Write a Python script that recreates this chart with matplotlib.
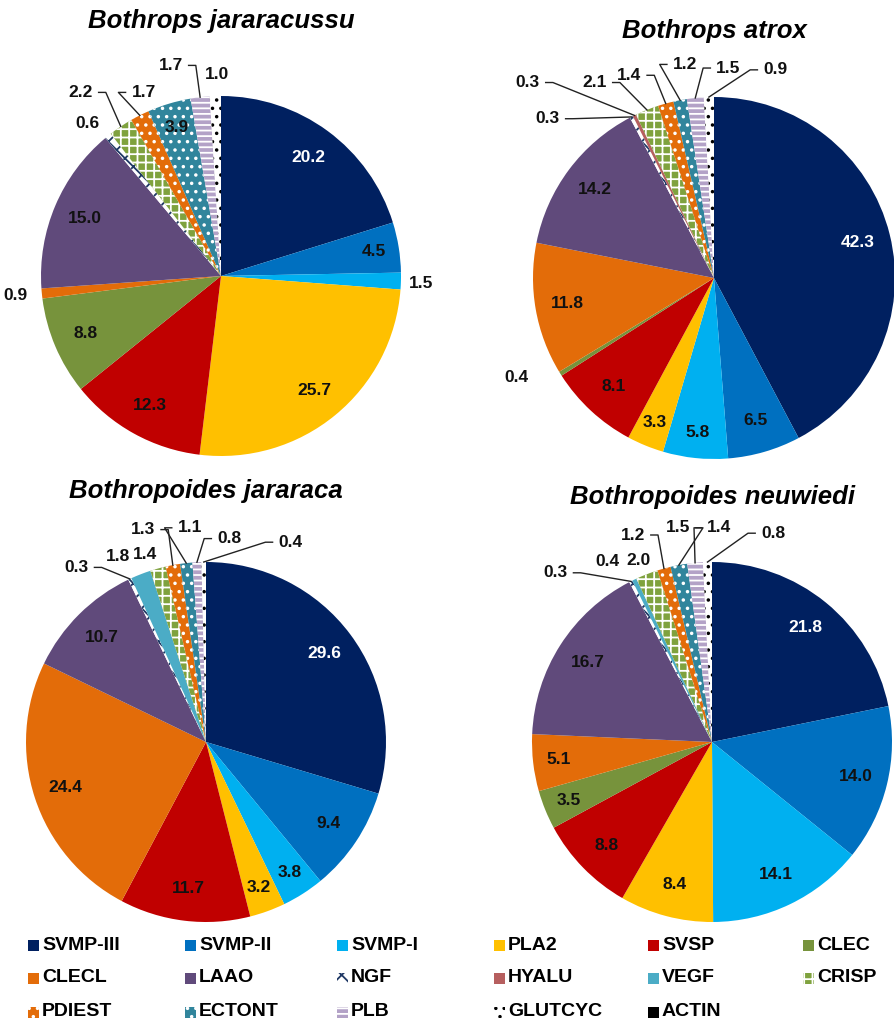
import matplotlib
matplotlib.use('Agg')
import matplotlib.pyplot as plt
from matplotlib.patches import Rectangle
from matplotlib import font_manager
import numpy as np

categories = ['SVMP-III', 'SVMP-II', 'SVMP-I', 'PLA2', 'SVSP', 'CLEC',
              'CLECL', 'LAAO', 'NGF', 'HYALU', 'VEGF', 'CRISP',
              'PDIEST', 'ECTONT', 'PLB', 'GLUTCYC', 'ACTIN']

# % of venom proteome, same order as categories
jararacussu = [20.2, 4.5, 1.5, 25.7, 12.3, 8.8, 0.9, 15.0, 0.6, 0, 0, 2.2, 1.7, 3.9, 1.7, 1.0, 0]
atrox = [42.3, 6.5, 5.8, 3.3, 8.1, 0.4, 11.8, 14.2, 0.3, 0.3, 0, 2.1, 1.4, 1.2, 1.5, 0.9, 0]
jararaca = [29.6, 9.4, 3.8, 3.2, 11.7, 0, 24.4, 10.7, 0.3, 0, 1.8, 1.4, 1.3, 1.1, 0.8, 0.4, 0]
neuwiedi = [21.8, 14.0, 14.1, 8.4, 8.8, 3.5, 5.1, 16.7, 0.3, 0, 0.4, 2.0, 1.2, 1.5, 1.4, 0.8, 0]

species = ['Bothrops jararacussu', 'Bothrops atrox',
           'Bothropoides jararaca', 'Bothropoides neuwiedi']

colors = ['#002060', '#0070C0', '#00B0F0', '#FFC000', '#C00000', '#77933C',
          '#E36C09', '#604A7B', '#FFFFFF', '#B65F5F', '#4BACC6', '#7FA23E',
          '#E36C09', '#31859C', '#B3A2C7', '#FFFFFF', '#000000']
hatches = [None] * 8 + ['xx', None, None, '++', '..', '..', '---', '..', None]
hatch_cols = [None] * 8 + ['#1F3864', None, None, 'white', 'white', 'white', 'white', 'black', None]

# layout (pixels): pie centre x, centre y, radius, title y
W, H = 895, 1035
pies = [(221, 276, 180, 21), (714, 278, 181, 31), (206, 742, 180, 491), (712, 742, 180, 497)]

# labels placed outside the pie: category index -> (x, y in radius units, leader line)
outside = [
    {2: (1.11, -0.04, False), 6: (-1.14, -0.11, False), 8: (-0.74, 0.85, False),
     11: (-0.78, 1.02, True), 12: (-0.43, 1.02, True), 14: (-0.28, 1.17, True),
     15: (-0.02, 1.12, False)},
    {5: (-1.09, -0.55, False), 8: (-0.92, 0.88, True), 9: (-1.03, 1.08, True),
     11: (-0.66, 1.08, True), 12: (-0.47, 1.12, True), 13: (-0.16, 1.18, True),
     14: (0.08, 1.16, True), 15: (0.34, 1.15, True)},
    {8: (-0.72, 0.97, True), 10: (-0.49, 1.03, False), 11: (-0.34, 1.04, False),
     12: (-0.35, 1.18, True), 13: (-0.09, 1.19, True), 14: (0.13, 1.13, True),
     15: (0.47, 1.11, True)},
    {8: (-0.87, 0.94, True), 10: (-0.58, 1.0, False), 11: (-0.41, 1.01, False),
     12: (-0.44, 1.15, True), 13: (-0.19, 1.19, True), 14: (0.04, 1.19, True),
     15: (0.34, 1.16, True)},
]

names = {f.name for f in font_manager.fontManager.ttflist}
family = 'Liberation Sans Narrow' if 'Liberation Sans Narrow' in names else 'Liberation Sans'
plt.rcParams['font.family'] = family
plt.rcParams['hatch.linewidth'] = 1.3

fig = plt.figure(figsize=(W / 100, H / 100), dpi=100)

for values, name, (cx, cy, R, ty), outs in zip([jararacussu, atrox, jararaca, neuwiedi],
                                                species, pies, outside):
    ax = fig.add_axes([(cx - R) / W, (H - cy - R) / H, 2 * R / W, 2 * R / H])
    idx = [i for i, v in enumerate(values) if v > 0]
    wedges, _ = ax.pie([values[i] for i in idx], colors=[colors[i] for i in idx],
                       startangle=90, counterclock=False, radius=1,
                       wedgeprops=dict(linewidth=0))
    for w, i in zip(wedges, idx):
        if hatches[i]:
            w.set_hatch(hatches[i])
            w.set_edgecolor(hatch_cols[i])
        t = np.deg2rad((w.theta1 + w.theta2) / 2)
        txt = f'{values[i]:.1f}'
        if i in outs:
            lx, ly, line = outs[i]
            ax.text(lx, ly, txt, ha='center', va='center', fontsize=12.5,
                    fontweight='bold', color='#111111')
            if line:
                ex, ey = np.cos(t), np.sin(t)
                if ex >= lx:
                    sx = lx + 0.1
                    mx = sx + 0.04
                else:
                    sx = lx - 0.1
                    mx = sx - 0.04
                ax.plot([sx, mx, ex], [ly, ly, ey], color='#222222', lw=1.0,
                        clip_on=False)
        else:
            r = 0.82 if values[i] > 6 else 0.86
            ax.text(r * np.cos(t), r * np.sin(t), txt, ha='center', va='center',
                    fontsize=12.5, fontweight='bold',
                    color='white' if i == 0 else '#111111')
    ax.set_xlim(-1, 1)
    ax.set_ylim(-1, 1)
    ax.axis('off')
    fig.text(cx / W, 1 - ty / H, name, ha='center', va='center', fontsize=18.5,
             fontweight='bold', fontstyle='italic')

# legend, laid out row by row like the original
col_x = [28, 185, 337, 494, 648, 803]
row_y = [945, 978, 1012]
for k, cat in enumerate(categories):
    r, c = divmod(k, 6)
    x, y = col_x[c], row_y[r]
    sq = Rectangle((x / W, 1 - (y + 5.5) / H), 11 / W, 11 / H, transform=fig.transFigure,
                   facecolor=colors[k], linewidth=0)
    if hatches[k]:
        sq.set_hatch(hatches[k])
        sq.set_edgecolor(hatch_cols[k])
    fig.add_artist(sq)
    fig.text((x + 14) / W, 1 - y / H, cat, ha='left', va='center', fontsize=14,
             fontweight='bold')

fig.savefig('out.png', dpi=100)
